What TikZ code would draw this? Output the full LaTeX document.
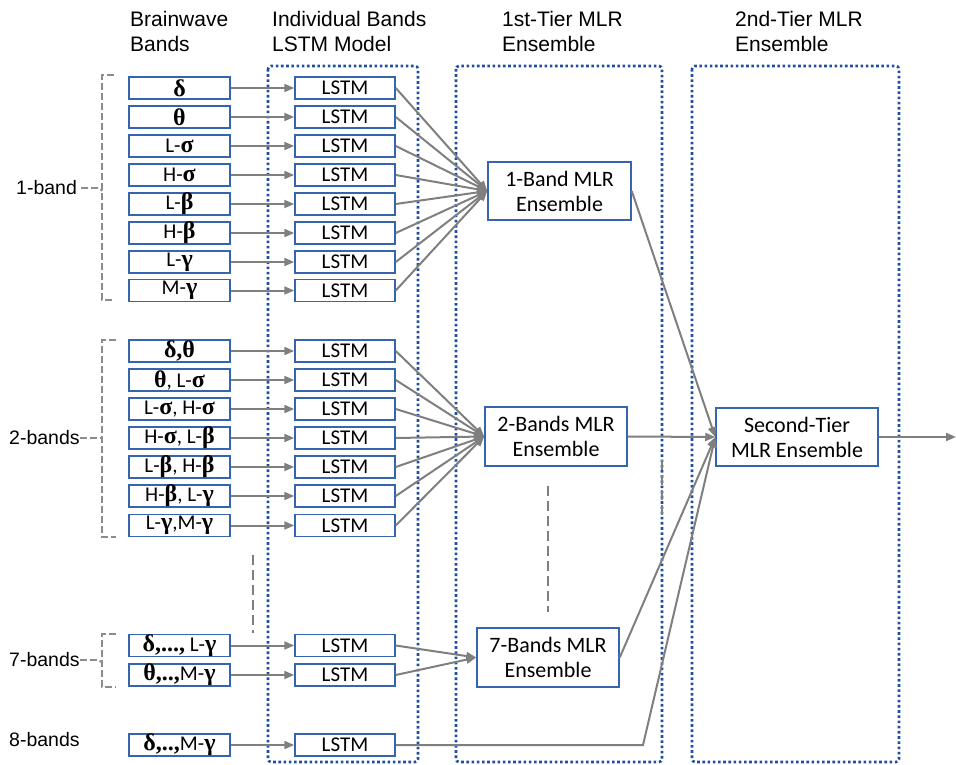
\documentclass[tikz,border=0pt]{standalone}
\usepackage{fontspec}
\setmainfont{Carlito}
\newfontfamily\titlefont{Liberation Sans}
\newfontfamily\grkfont{Liberation Serif}
\usetikzlibrary{arrows.meta}
\newcommand{\gk}[1]{{\grkfont\bfseries\fontsize{24}{22}\selectfont #1}}
\definecolor{boxblue}{HTML}{3465AE}
\definecolor{dotblue}{HTML}{1F4E9E}
\definecolor{arrgray}{HTML}{7F7F7F}
\tikzset{
  bandbox/.style={draw=boxblue, line width=1.5pt, minimum width=101pt, minimum height=22pt, inner sep=0pt, font=\fontsize{21}{22}\selectfont},
  lstmbox/.style={bandbox, minimum width=100pt},
  mlrbox/.style={draw=boxblue, line width=1.5pt, inner sep=0pt, align=center, font=\fontsize{22}{25}\selectfont},
  dotframe/.style={draw=dotblue, line width=2.6pt, dash pattern=on 2.6pt off 2.6pt, rounded corners=3pt},
  conn/.style={draw=arrgray, line width=2pt, -{Triangle[length=10pt,width=8pt]}},
  bracket/.style={draw=arrgray!90, line width=1.6pt, dash pattern=on 7pt off 3pt},
  sep/.style={draw=arrgray, line width=2.6pt, dash pattern=on 10pt off 5pt},
  title/.style={font=\titlefont\fontsize{21}{25}\selectfont, align=left, anchor=north west, inner sep=0pt},
  sidelab/.style={font=\titlefont\fontsize{19.5}{22}\selectfont, anchor=west, inner sep=0pt}
}
\begin{document}
\begin{tikzpicture}[x=1pt,y=-1pt]
\path[use as bounding box] (0,0) rectangle (956,765);

% dotted frames
\draw[dotframe] (268,66) rectangle (418,762);
\draw[dotframe] (456,66) rectangle (662,762);
\draw[dotframe] (692,66) rectangle (899,762);

% titles
\node[title] (t1) at (130,11) {Brainwave\\Bands};
\node[title] (t2) at (272,11) {Individual Bands\\LSTM Model};
\node[title] (t3) at (502,11) {1st-Tier MLR\\Ensemble};
\node[title] (t4) at (735,11) {2nd-Tier MLR\\Ensemble};

% 1-band
\node[bandbox] (b1) at (179.5,88) {\gk{δ}};
\node[bandbox] (b2) at (179.5,117) {\gk{θ}};
\node[bandbox] (b3) at (179.5,146) {L-\gk{σ}};
\node[bandbox] (b4) at (179.5,175) {H-\gk{σ}};
\node[bandbox] (b5) at (179.5,204) {L-\gk{β}};
\node[bandbox] (b6) at (179.5,233) {H-\gk{β}};
\node[bandbox] (b7) at (179.5,262) {L-\gk{γ}};
\node[bandbox] (b8) at (179.5,290.5) {M-\gk{γ}};
\foreach \i/\y in {1/88,2/117,3/146,4/175,5/204,6/233,7/262,8/290.5}
  \node[lstmbox] (l\i) at (345,\y) {LSTM};

% 2-bands
\node[bandbox] (c1) at (179.5,351) {\gk{δ,θ}};
\node[bandbox] (c2) at (179.5,380) {\gk{θ}, L-\gk{σ}};
\node[bandbox] (c3) at (179.5,409) {L-\gk{σ}, H-\gk{σ}};
\node[bandbox] (c4) at (179.5,438) {H-\gk{σ}, L-\gk{β}};
\node[bandbox] (c5) at (179.5,467) {L-\gk{β}, H-\gk{β}};
\node[bandbox] (c6) at (179.5,496) {H-\gk{β}, L-\gk{γ}};
\node[bandbox] (c7) at (179.5,525.5) {L-\gk{γ},M-\gk{γ}};
\foreach \i/\y in {1/351,2/380,3/409,4/438,5/467,6/496,7/525.5}
  \node[lstmbox] (m\i) at (345,\y) {LSTM};

% 7-bands
\node[bandbox] (s1) at (179.5,645.5) {\gk{δ,...,} L-\gk{γ}};
\node[bandbox] (s2) at (179.5,675) {\gk{θ,..,}M-\gk{γ}};
\node[lstmbox] (n1) at (345,645.5) {LSTM};
\node[lstmbox] (n2) at (345,675) {LSTM};

% 8-bands
\node[bandbox] (e1) at (179.5,745) {\gk{δ,..,}M-\gk{γ}};
\node[lstmbox] (k1) at (345,745) {LSTM};

% MLR boxes
\node[mlrbox, minimum width=143pt, minimum height=58pt] (r1) at (559.5,191) {1-Band MLR\\Ensemble};
\node[mlrbox, minimum width=142pt, minimum height=59pt] (r2) at (556,436.5) {2-Bands MLR\\Ensemble};
\node[mlrbox, minimum width=142pt, minimum height=59pt] (r7) at (548,657.5) {7-Bands MLR\\Ensemble};
\node[mlrbox, minimum width=162pt, minimum height=58pt] (st) at (797,437) {Second-Tier\\MLR Ensemble};

% side labels
\node[sidelab] (lab1) at (16,188) {1-band};
\node[sidelab] (lab2) at (9,438) {2-bands};
\node[sidelab] (lab7) at (9,660) {7-bands};
\node[sidelab] (lab8) at (9,740) {8-bands};

% brackets
\draw[bracket] (114,75) -- (102,75) -- (102,300) -- (114,300);
\draw[bracket] ([xshift=4pt]lab1.east) -- (99,188) -- (102,191);
\draw[bracket] (116,340) -- (102,340) -- (102,537) -- (116,537);
\draw[bracket] (lab2.east) -- (102,438);
\draw[bracket] (116,634) -- (102,634) -- (102,687) -- (116,687);
\draw[bracket] (lab7.east) -- (99,660) -- (102,663);

% separators
\draw[sep] (253,555) -- (253,633);
\draw[sep] (548,486) -- (548,612);
\draw[sep] (662,460) -- (662,515);

% band -> LSTM
\foreach \i in {1,...,8} \draw[conn] (b\i) -- (l\i);
\foreach \i in {1,...,7} \draw[conn] (c\i) -- (m\i);
\draw[conn] (s1) -- (n1);
\draw[conn] (s2) -- (n2);
\draw[conn] (e1) -- (k1);

% LSTM -> MLR
\foreach \i in {1,...,8} \draw[conn] (l\i.east) -- (r1.west);
\foreach \i in {1,...,7} \draw[conn] (m\i.east) -- (r2.west);
\draw[conn] (n1.east) -- (r7.west);
\draw[conn] (n2.east) -- (r7.west);

% MLR -> second tier
\coordinate (corner) at (643,745);
\coordinate (out) at (956,437);
\draw[conn] (r1.east) -- (st.west);
\draw[conn] (r2.east) -- (st.west);
\draw[conn] (r7.east) -- (st.west);
\draw[conn] (k1.east) -- (corner) -- (st.west);
\draw[conn] (st.east) -- (out);
\end{tikzpicture}
\end{document}
